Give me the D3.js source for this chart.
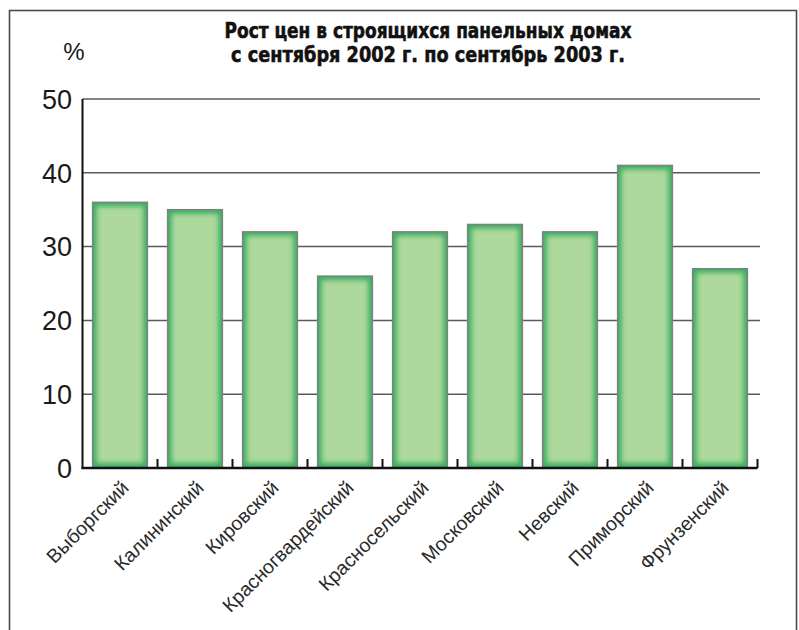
<!DOCTYPE html>
<html><head><meta charset="utf-8">
<script src="https://cdn.jsdelivr.net/npm/d3@7"></script>
<style>body{margin:0;background:#fff}svg{display:block}</style>
</head><body>
<svg id="c" width="799" height="630"></svg>
<script>
const categories = ["Выборгский","Калининский","Кировский","Красногвардейский","Красносельский","Московский","Невский","Приморский","Фрунзенский"];
const values = [36, 35, 32, 26, 32, 33, 32, 41, 27];
const yTicks = [0, 10, 20, 30, 40, 50];
const titleLines = ["Рост цен в строящихся панельных домах", "с сентября 2002 г. по сентябрь 2003 г."];
const unitLabel = "%";

const svg = d3.select("#c");
const x0 = 82.5, x1 = 757.5, yBase = 468, yTop = 99;
const FONT = "'Liberation Sans', Arial, sans-serif";

const x = d3.scaleBand().domain(categories).range([x0, x1]).paddingInner(0.27).paddingOuter(0.135);
const y = d3.scaleLinear().domain([0, 50]).range([yBase, yTop]);

// frame
svg.append("rect").attr("x", 9.5).attr("y", 10.5).attr("width", 787).attr("height", 640)
  .attr("fill", "none").attr("stroke", "#4a4a4a").attr("stroke-width", 1.6);

const defs = svg.append("defs");
defs.append("filter").attr("id", "blur").attr("x", "-20%").attr("y", "-20%").attr("width", "140%").attr("height", "140%")
  .append("feGaussianBlur").attr("stdDeviation", 2.8);

// gridlines
svg.append("g").selectAll("line").data(yTicks.filter(d => d > 0)).join("line")
  .attr("x1", x0).attr("x2", 760).attr("y1", d => y(d)).attr("y2", d => y(d))
  .attr("stroke", "#5a5a5a").attr("stroke-width", 1.5);

// y tick labels
svg.append("g").selectAll("text").data(yTicks).join("text")
  .attr("x", 72).attr("y", d => y(d)).attr("dy", "0.36em")
  .attr("text-anchor", "end")
  .style("font-family", FONT)
  .style("font-size", "27px").attr("fill", "#1a1a1a").text(d => d);

svg.append("text").attr("x", 74).attr("y", 60).attr("text-anchor", "middle")
  .style("font-family", FONT).style("font-size", "24px").attr("fill", "#1a1a1a")
  .text(unitLabel);

// bars
const bars = svg.append("g").selectAll("g").data(categories).join("g");
bars.each(function(c, i) {
  const g = d3.select(this);
  const bx = x(c), bw = x.bandwidth(), by = y(values[i]), bh = yBase - y(values[i]);
  const id = "clip" + i;
  defs.append("clipPath").attr("id", id).append("rect").attr("x", bx).attr("y", by).attr("width", bw).attr("height", bh);
  const inner = g.append("g").attr("clip-path", `url(#${id})`);
  inner.append("rect").attr("x", bx).attr("y", by).attr("width", bw).attr("height", bh).attr("fill", "#38b062");
  inner.append("rect").attr("x", bx + 4).attr("y", by + 4).attr("width", bw - 8).attr("height", bh - 9)
    .attr("fill", "#aed89c").attr("filter", "url(#blur)");
  g.append("rect").attr("x", bx).attr("y", by).attr("width", bw).attr("height", bh)
    .attr("fill", "none").attr("stroke", "#808080").attr("stroke-width", 1.5);
});

// axes
svg.append("line").attr("x1", x0).attr("x2", x0).attr("y1", yTop).attr("y2", yBase + 1)
  .attr("stroke", "#111").attr("stroke-width", 2);
svg.append("line").attr("x1", x0 - 1).attr("x2", x1).attr("y1", yBase).attr("y2", yBase)
  .attr("stroke", "#111").attr("stroke-width", 2.5);
// category boundary ticks
const bounds = categories.map((c, i) => x0 + (i + 1) * x.step());
svg.append("g").selectAll("line").data(bounds).join("line")
  .attr("x1", d => d).attr("x2", d => d).attr("y1", yBase).attr("y2", yBase - 9)
  .attr("stroke", "#111").attr("stroke-width", 2);

// x labels
svg.append("g").selectAll("text").data(categories).join("text")
  .attr("transform", c => `translate(${x(c) + x.bandwidth() / 2 + 10},${yBase + 21}) rotate(-45)`)
  .attr("text-anchor", "end")
  .style("font-family", FONT)
  .style("font-size", "19.5px").attr("fill", "#2a2a2a").text(c => c);

// title
const titleW = [407, 394];
svg.append("g").selectAll("text").data(titleLines).join("text")
  .attr("x", 428).attr("y", (d, i) => 38 + i * 23.5)
  .attr("text-anchor", "middle")
  .attr("textLength", (d, i) => titleW[i]).attr("lengthAdjust", "spacingAndGlyphs")
  .style("font-family", "'DejaVu Sans', sans-serif")
  .style("font-weight", "bold")
  .style("font-size", "21px").attr("fill", "#111")
  .attr("stroke", "#111").attr("stroke-width", 0.6).text(d => d);
</script>
</body></html>
